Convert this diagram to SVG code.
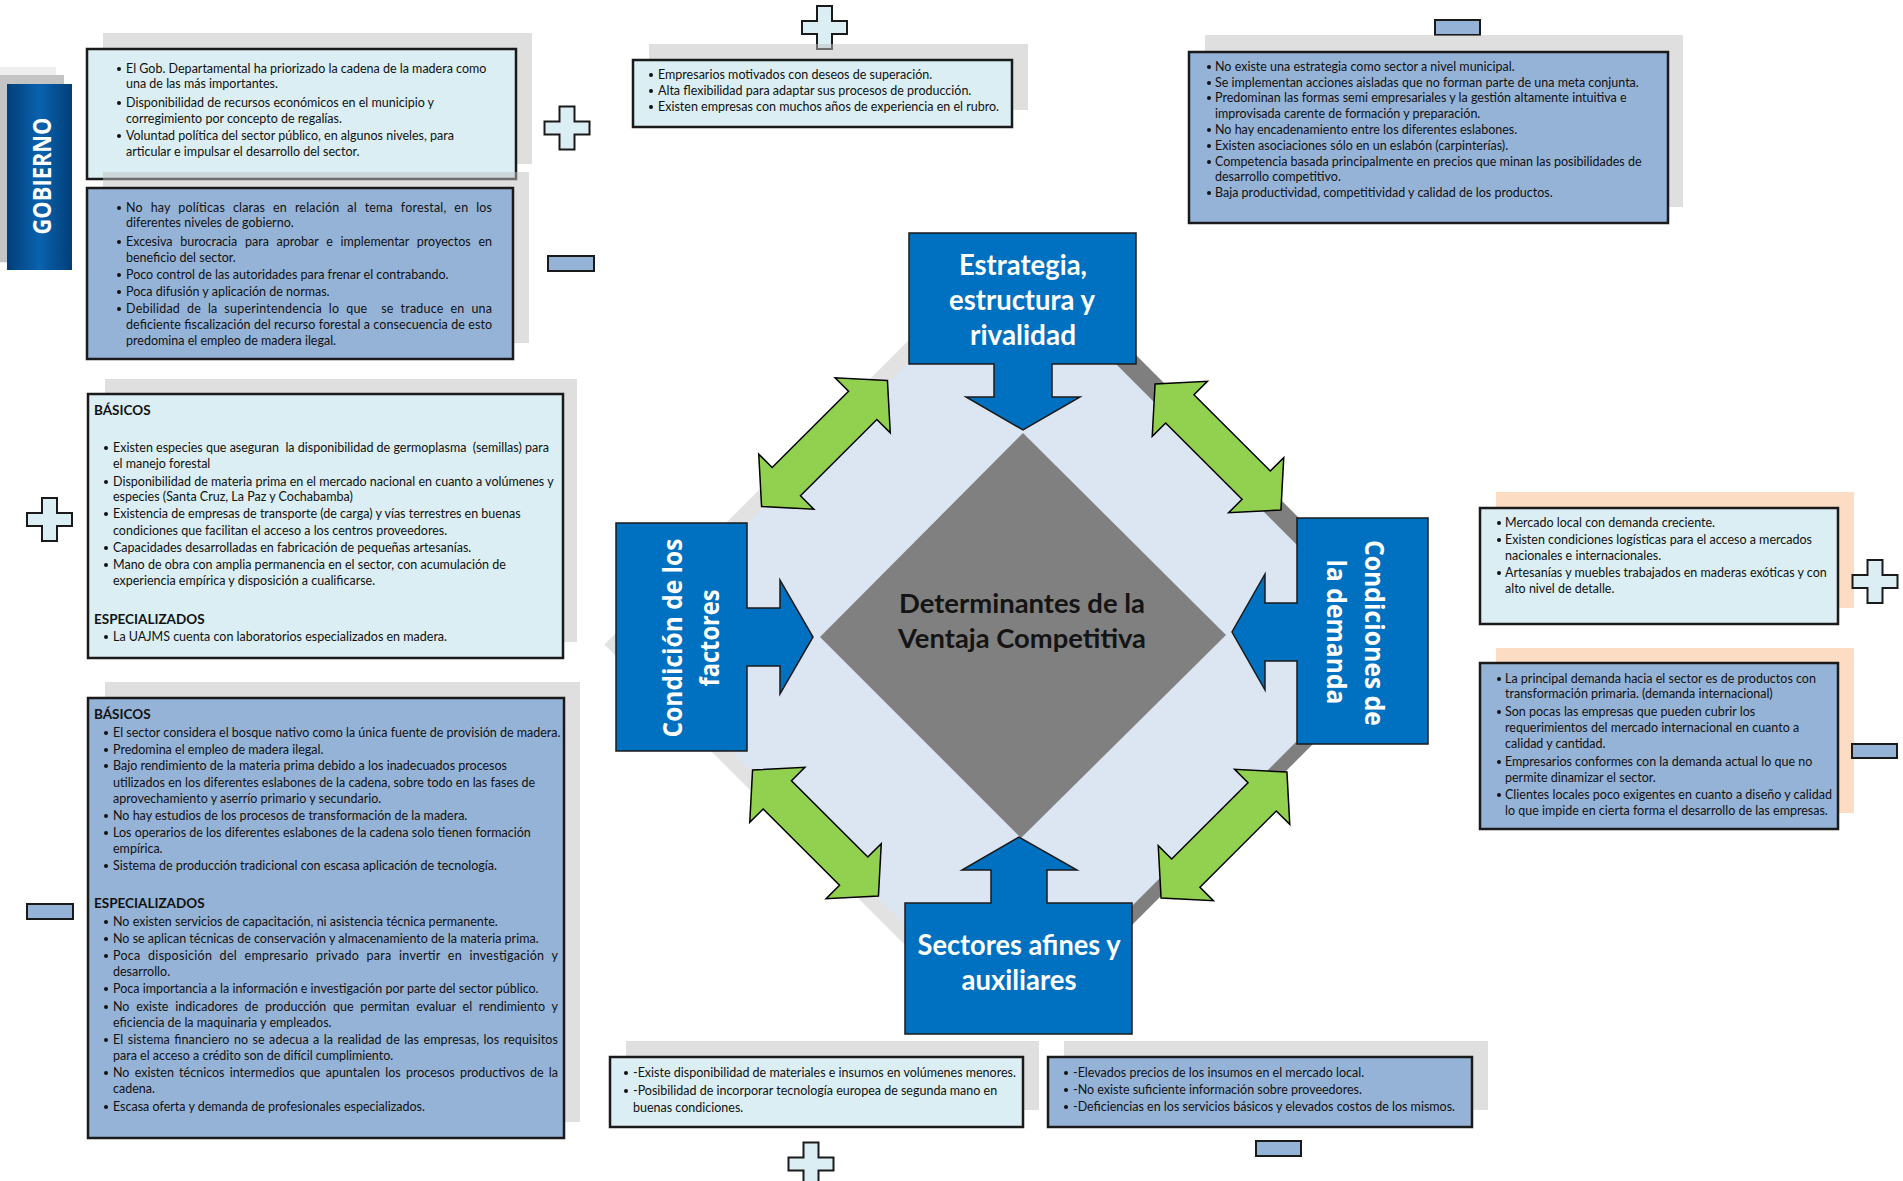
<svg xmlns="http://www.w3.org/2000/svg" xmlns:xlink="http://www.w3.org/1999/xlink" width="1903" height="1181" viewBox="0 0 1903 1181">
<defs>
<style>
.t{font-family:Lato,"Liberation Sans",sans-serif;font-size:12.5px;fill:#111}
.h{font-family:Lato,"Liberation Sans",sans-serif;font-size:13.5px;font-weight:bold;fill:#111}
.lt{fill:#daeef3;stroke:#1a1a1a;stroke-width:2.5}
.bl{fill:#95b3d7;stroke:#1a1a1a;stroke-width:2.5}
.sh{fill:#bfbfbf;fill-opacity:.5}
.shp{fill:#fcdcc2}
.blue{fill:#0070c0;stroke:#1a1a1a;stroke-width:1.5}
.green{fill:#92d050;stroke:#000;stroke-width:1.5}
.ttl{font-family:Lato,"Liberation Sans",sans-serif;font-weight:bold;fill:#fff;font-size:28px;text-anchor:middle}
.rot{font-family:"Open Sans","Liberation Sans",sans-serif;font-weight:bold;fill:#fff;font-size:27px;text-anchor:middle}
.ctr{font-family:Lato,"Liberation Sans",sans-serif;font-weight:bold;fill:#141414;font-size:27px;text-anchor:middle}
.plus{fill:#daeef3;stroke:#1a1a1a;stroke-width:2}
.minus{fill:#95b3d7;stroke:#1a1a1a;stroke-width:2}
.b{fill:#111}
</style>
<linearGradient id="gobg" x1="0" y1="0" x2="1" y2="0">
<stop offset="0" stop-color="#003f78"/>
<stop offset="0.5" stop-color="#0a62ae"/>
<stop offset="1" stop-color="#003f78"/>
</linearGradient>
<path id="plus" d="M-7.5,-21.5 H7.5 V-6.5 H22.5 V6.5 H7.5 V21.5 H-7.5 V6.5 H-22.5 V-6.5 H-7.5 Z"/>
<path id="garrow" d="M89,0 L54,-39 L54,-20 L-54,-20 L-54,-39 L-89,0 L-54,39 L-54,20 L54,20 L54,39 Z"/>
</defs>
<rect width="1903" height="1181" fill="#fff"/>

<g id="backdrop">
<polygon points="990.5,258.5 1374,642 988,1028 604.5,644.5" fill="#e2e2e2"/>
<polygon points="1035.5,254.5 1419,638 1033,1024 649.5,640.5" fill="#7f7f7f"/>
<polygon points="1011.5,259.5 1395,643 1009,1029 625.5,645.5" fill="#dce6f2"/>
</g>

<g id="centro">
<polygon points="1023,433 1226,635 1021,838 820,637" fill="#808080"/>
<text class="ctr" x="1022" y="613" textLength="246" lengthAdjust="spacingAndGlyphs">Determinantes de la</text>
<text class="ctr" x="1022" y="648" textLength="248" lengthAdjust="spacingAndGlyphs">Ventaja Competitiva</text>
</g>

<g id="connectors">
<use xlink:href="#garrow" class="green" transform="translate(824.5,443.5) rotate(-45)"/>
<use xlink:href="#garrow" class="green" transform="translate(1218,447) rotate(45)"/>
<use xlink:href="#garrow" class="green" transform="translate(815.5,833) rotate(45)"/>
<use xlink:href="#garrow" class="green" transform="translate(1224,835) rotate(-45)"/>
</g>

<g id="estrategia">
<path class="blue" d="M909,233 H1136 V364 H1052 V397 H1080 L1023,430 L966,397 H994 V364 H909 Z"/>
<text class="ttl" x="1023" y="275" textLength="128" lengthAdjust="spacingAndGlyphs">Estrategia,</text>
<text class="ttl" x="1022" y="310" textLength="146" lengthAdjust="spacingAndGlyphs">estructura y</text>
<text class="ttl" x="1023" y="345" textLength="106" lengthAdjust="spacingAndGlyphs">rivalidad</text>
</g>

<g id="factores">
<path class="blue" d="M616,523 H747 V608 H780 V580 L813,637 L780,694 V666 H747 V751 H616 Z"/>
<text class="rot" transform="translate(682,638) rotate(-90)" textLength="199" lengthAdjust="spacingAndGlyphs">Condición de los</text>
<text class="rot" transform="translate(719,638) rotate(-90)" textLength="97" lengthAdjust="spacingAndGlyphs">factores</text>
</g>

<g id="demanda">
<path class="blue" d="M1297,518 H1428 V744 H1297 V661 H1265 V690 L1232,632 L1265,574 V603 H1297 Z"/>
<text class="rot" transform="translate(1365,633) rotate(90)" textLength="186" lengthAdjust="spacingAndGlyphs">Condiciones de</text>
<text class="rot" transform="translate(1327,632) rotate(90)" textLength="145" lengthAdjust="spacingAndGlyphs">la demanda</text>
</g>

<g id="sectores">
<path class="blue" d="M905,903 H991 V870 H962 L1019,837 L1077,870 H1047 V903 H1132 V1034 H905 Z"/>
<text class="ttl" x="1019" y="955" textLength="203" lengthAdjust="spacingAndGlyphs">Sectores afines y</text>
<text class="ttl" x="1019" y="990" textLength="115" lengthAdjust="spacingAndGlyphs">auxiliares</text>
</g>

<g id="gobierno">
<rect x="0" y="67" width="56" height="196" fill="#eeeeee"/>
<rect x="0" y="75" width="64" height="187" fill="#c4c4c4"/>
<rect x="7" y="84" width="65" height="186" fill="url(#gobg)"/>
<text class="rot" transform="translate(51,176) rotate(-90)" style="font-size:25px" textLength="117" lengthAdjust="spacingAndGlyphs">GOBIERNO</text>
</g>

<g id="gob-pos">
<rect class="sh" x="103" y="33" width="429" height="131"/>
<rect class="lt" x="87" y="49" width="429" height="130"/>
<g class="b"><circle cx="119" cy="69" r="2"/><circle cx="119" cy="103" r="2"/><circle cx="119" cy="136" r="2"/></g>
<text class="t" x="126" y="73">El Gob. Departamental ha priorizado la cadena de la madera como</text>
<text class="t" x="126" y="88">una de las más importantes.</text>
<text class="t" x="126" y="107">Disponibilidad de recursos económicos en el municipio y</text>
<text class="t" x="126" y="123">corregimiento por concepto de regalías.</text>
<text class="t" x="126" y="140">Voluntad política del sector público, en algunos niveles, para</text>
<text class="t" x="126" y="156">articular e impulsar el desarrollo del sector.</text>
<use xlink:href="#plus" class="plus" transform="translate(567,128)"/>
</g>

<g id="gob-neg">
<rect class="sh" x="103" y="172" width="426" height="171"/>
<rect class="bl" x="87" y="188" width="426" height="171"/>
<g class="b"><circle cx="119" cy="208" r="2"/><circle cx="119" cy="242" r="2"/><circle cx="119" cy="275" r="2"/><circle cx="119" cy="292" r="2"/><circle cx="119" cy="309" r="2"/></g>
<text class="t" x="126" y="212" textLength="366" style="word-spacing:4.5px">No hay políticas claras en relación al tema forestal, en los</text>
<text class="t" x="126" y="227">diferentes niveles de gobierno.</text>
<text class="t" x="126" y="246" textLength="366" style="word-spacing:4.5px">Excesiva burocracia para aprobar e implementar proyectos en</text>
<text class="t" x="126" y="262">beneficio del sector.</text>
<text class="t" x="126" y="279">Poco control de las autoridades para frenar el contrabando.</text>
<text class="t" x="126" y="296">Poca difusión y aplicación de normas.</text>
<text class="t" x="126" y="313" textLength="366" style="white-space:pre;word-spacing:3.5px">Debilidad de la superintendencia lo que  se traduce en una</text>
<text class="t" x="126" y="329" textLength="366">deficiente fiscalización del recurso forestal a consecuencia de esto</text>
<text class="t" x="126" y="345">predomina el empleo de madera ilegal.</text>
<rect class="minus" x="548" y="256" width="46" height="15"/>
</g>

<g id="estrategia-pos">
<use xlink:href="#plus" class="plus" transform="translate(824.5,27.5)"/>
<rect class="sh" x="649" y="44" width="379" height="66"/>
<rect class="lt" x="633" y="60" width="379" height="67"/>
<g class="b"><circle cx="651" cy="75" r="2"/><circle cx="651" cy="91" r="2"/><circle cx="651" cy="107" r="2"/></g>
<text class="t" x="658" y="79">Empresarios motivados con deseos de superación.</text>
<text class="t" x="658" y="95">Alta flexibilidad para adaptar sus procesos de producción.</text>
<text class="t" x="658" y="111">Existen empresas con muchos años de experiencia en el rubro.</text>
</g>

<g id="estrategia-neg">
<rect class="minus" x="1435" y="20" width="45" height="15"/>
<rect class="sh" x="1205" y="35" width="478" height="172"/>
<rect class="bl" x="1189" y="52" width="479" height="171"/>
<g class="b"><circle cx="1209" cy="67" r="2"/><circle cx="1209" cy="83" r="2"/><circle cx="1209" cy="98" r="2"/><circle cx="1209" cy="130" r="2"/><circle cx="1209" cy="146" r="2"/><circle cx="1209" cy="162" r="2"/><circle cx="1209" cy="193" r="2"/></g>
<text class="t" x="1215" y="71">No existe una estrategia como sector a nivel municipal.</text>
<text class="t" x="1215" y="87">Se implementan acciones aisladas que no forman parte de una meta conjunta.</text>
<text class="t" x="1215" y="102">Predominan las formas semi empresariales y la gestión altamente intuitiva e</text>
<text class="t" x="1215" y="118">improvisada carente de formación y preparación.</text>
<text class="t" x="1215" y="134">No hay encadenamiento entre los diferentes eslabones.</text>
<text class="t" x="1215" y="150">Existen asociaciones sólo en un eslabón (carpinterías).</text>
<text class="t" x="1215" y="166">Competencia basada principalmente en precios que minan las posibilidades de</text>
<text class="t" x="1215" y="181">desarrollo competitivo.</text>
<text class="t" x="1215" y="197">Baja productividad, competitividad y calidad de los productos.</text>
</g>

<g id="factores-pos">
<rect class="sh" x="105" y="379" width="472" height="263"/>
<rect class="lt" x="88" y="394" width="475" height="264"/>
<text class="h" x="94" y="415">BÁSICOS</text>
<g class="b"><circle cx="106" cy="448" r="2"/><circle cx="106" cy="482" r="2"/><circle cx="106" cy="514" r="2"/><circle cx="106" cy="548" r="2"/><circle cx="106" cy="565" r="2"/><circle cx="106" cy="637" r="2"/></g>
<text class="t" x="113" y="452" style="white-space:pre">Existen especies que aseguran  la disponibilidad de germoplasma  (semillas) para</text>
<text class="t" x="113" y="468">el manejo forestal</text>
<text class="t" x="113" y="486">Disponibilidad de materia prima en el mercado nacional en cuanto a volúmenes y</text>
<text class="t" x="113" y="501">especies (Santa Cruz, La Paz y Cochabamba)</text>
<text class="t" x="113" y="518">Existencia de empresas de transporte (de carga) y vías terrestres en buenas</text>
<text class="t" x="113" y="535">condiciones que facilitan el acceso a los centros proveedores.</text>
<text class="t" x="113" y="552">Capacidades desarrolladas en fabricación de pequeñas artesanías.</text>
<text class="t" x="113" y="569">Mano de obra con amplia permanencia en el sector, con acumulación de</text>
<text class="t" x="113" y="585">experiencia empírica y disposición a cualificarse.</text>
<text class="h" x="94" y="624">ESPECIALIZADOS</text>
<text class="t" x="113" y="641">La UAJMS cuenta con laboratorios especializados en madera.</text>
<use xlink:href="#plus" class="plus" transform="translate(49.5,519.5)"/>
</g>

<g id="factores-neg">
<rect class="sh" x="105" y="682" width="475" height="440"/>
<rect class="bl" x="88" y="698" width="476" height="440"/>
<text class="h" x="94" y="719">BÁSICOS</text>
<g class="b"><circle cx="106" cy="733" r="2"/><circle cx="106" cy="750" r="2"/><circle cx="106" cy="766" r="2"/><circle cx="106" cy="816" r="2"/><circle cx="106" cy="833" r="2"/><circle cx="106" cy="866" r="2"/><circle cx="106" cy="922" r="2"/><circle cx="106" cy="939" r="2"/><circle cx="106" cy="956" r="2"/><circle cx="106" cy="989" r="2"/><circle cx="106" cy="1007" r="2"/><circle cx="106" cy="1040" r="2"/><circle cx="106" cy="1073" r="2"/><circle cx="106" cy="1107" r="2"/></g>
<text class="t" x="113" y="737">El sector considera el bosque nativo como la única fuente de provisión de madera.</text>
<text class="t" x="113" y="754">Predomina el empleo de madera ilegal.</text>
<text class="t" x="113" y="770">Bajo rendimiento de la materia prima debido a los inadecuados procesos</text>
<text class="t" x="113" y="787">utilizados en los diferentes eslabones de la cadena, sobre todo en las fases de</text>
<text class="t" x="113" y="803">aprovechamiento y aserrío primario y secundario.</text>
<text class="t" x="113" y="820">No hay estudios de los procesos de transformación de la madera.</text>
<text class="t" x="113" y="837">Los operarios de los diferentes eslabones de la cadena solo tienen formación</text>
<text class="t" x="113" y="853">empírica.</text>
<text class="t" x="113" y="870">Sistema de producción tradicional con escasa aplicación de tecnología.</text>
<text class="h" x="94" y="908">ESPECIALIZADOS</text>
<text class="t" x="113" y="926">No existen servicios de capacitación, ni asistencia técnica permanente.</text>
<text class="t" x="113" y="943">No se aplican técnicas de conservación y almacenamiento de la materia prima.</text>
<text class="t" x="113" y="960" textLength="445" style="word-spacing:4px">Poca disposición del empresario privado para invertir en investigación y</text>
<text class="t" x="113" y="976">desarrollo.</text>
<text class="t" x="113" y="993">Poca importancia a la información e investigación por parte del sector público.</text>
<text class="t" x="113" y="1011" textLength="445" style="word-spacing:3.5px">No existe indicadores de producción que permitan evaluar el rendimiento y</text>
<text class="t" x="113" y="1027">eficiencia de la maquinaria y empleados.</text>
<text class="t" x="113" y="1044" textLength="445" style="word-spacing:1px">El sistema financiero no se adecua a la realidad de las empresas, los requisitos</text>
<text class="t" x="113" y="1060">para el acceso a crédito son de difícil cumplimiento.</text>
<text class="t" x="113" y="1077" textLength="445" style="word-spacing:2px">No existen técnicos intermedios que apuntalen los procesos productivos de la</text>
<text class="t" x="113" y="1093">cadena.</text>
<text class="t" x="113" y="1111">Escasa oferta y demanda de profesionales especializados.</text>
<rect class="minus" x="27" y="904" width="46" height="15"/>
</g>

<g id="demanda-pos">
<rect class="shp" x="1496" y="492" width="358" height="116"/>
<rect class="lt" x="1480" y="508" width="358" height="116"/>
<g class="b"><circle cx="1499" cy="523" r="2"/><circle cx="1499" cy="540" r="2"/><circle cx="1499" cy="573" r="2"/></g>
<text class="t" x="1505" y="527">Mercado local con demanda creciente.</text>
<text class="t" x="1505" y="544">Existen condiciones logísticas para el acceso a mercados</text>
<text class="t" x="1505" y="560">nacionales e internacionales.</text>
<text class="t" x="1505" y="577">Artesanías y muebles trabajados en maderas exóticas y con</text>
<text class="t" x="1505" y="593">alto nivel de detalle.</text>
<use xlink:href="#plus" class="plus" transform="translate(1875,581.5)"/>
</g>

<g id="demanda-neg">
<rect class="shp" x="1496" y="648" width="358" height="165"/>
<rect class="bl" x="1480" y="663" width="358" height="166"/>
<g class="b"><circle cx="1499" cy="679" r="2"/><circle cx="1499" cy="712" r="2"/><circle cx="1499" cy="762" r="2"/><circle cx="1499" cy="795" r="2"/></g>
<text class="t" x="1505" y="683">La principal demanda hacia el sector es de productos con</text>
<text class="t" x="1505" y="698">transformación primaria. (demanda internacional)</text>
<text class="t" x="1505" y="716">Son pocas las empresas que pueden cubrir los</text>
<text class="t" x="1505" y="732">requerimientos del mercado internacional en cuanto a</text>
<text class="t" x="1505" y="748">calidad y cantidad.</text>
<text class="t" x="1505" y="766">Empresarios conformes con la demanda actual lo que no</text>
<text class="t" x="1505" y="782">permite dinamizar el sector.</text>
<text class="t" x="1505" y="799">Clientes locales poco exigentes en cuanto a diseño y calidad</text>
<text class="t" x="1505" y="815">lo que impide en cierta forma el desarrollo de las empresas.</text>
<rect class="minus" x="1852" y="744" width="45" height="14"/>
</g>

<g id="sectores-pos">
<rect class="sh" x="626" y="1041" width="413" height="69"/>
<rect class="lt" x="610" y="1057" width="413" height="70"/>
<g class="b"><circle cx="626" cy="1073" r="2"/><circle cx="626" cy="1091" r="2"/></g>
<text class="t" x="633" y="1077">-Existe disponibilidad de materiales e insumos en volúmenes menores.</text>
<text class="t" x="633" y="1095">-Posibilidad de incorporar tecnología europea de segunda mano en</text>
<text class="t" x="633" y="1112">buenas condiciones.</text>
<use xlink:href="#plus" class="plus" transform="translate(811,1164)"/>
</g>

<g id="sectores-neg">
<rect class="sh" x="1064" y="1041" width="424" height="69"/>
<rect class="bl" x="1048" y="1057" width="424" height="70"/>
<g class="b"><circle cx="1066" cy="1073" r="2"/><circle cx="1066" cy="1090" r="2"/><circle cx="1066" cy="1107" r="2"/></g>
<text class="t" x="1073" y="1077">-Elevados precios de los insumos en el mercado local.</text>
<text class="t" x="1073" y="1094">-No existe suficiente información sobre proveedores.</text>
<text class="t" x="1073" y="1111">-Deficiencias en los servicios básicos y elevados costos de los mismos.</text>
<rect class="minus" x="1256" y="1141" width="45" height="15"/>
</g>
</svg>
